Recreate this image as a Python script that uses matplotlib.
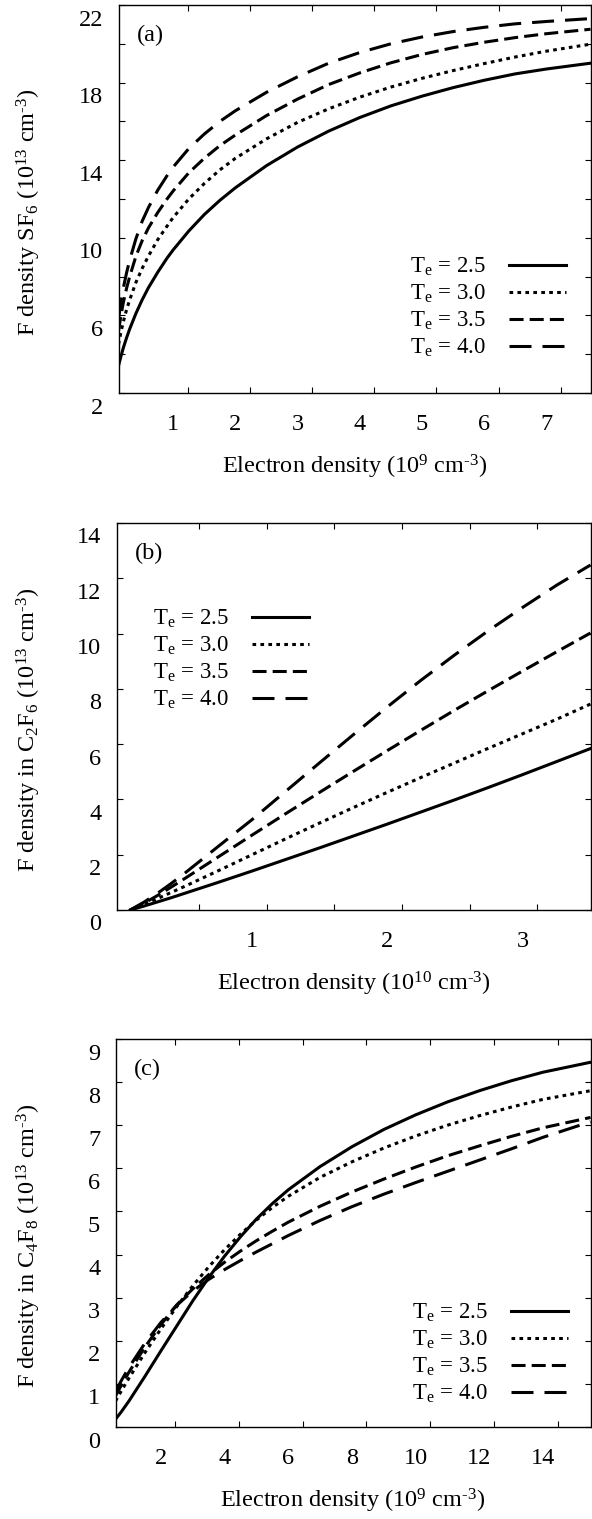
import matplotlib.pyplot as plt
import numpy as np
from matplotlib.ticker import FixedLocator, FuncFormatter
from matplotlib.transforms import ScaledTranslation

plt.rcParams['font.family'] = ['Liberation Serif', 'DejaVu Serif']
plt.rcParams['mathtext.fontset'] = 'custom'
plt.rcParams['mathtext.rm'] = 'Liberation Serif'
plt.rcParams['mathtext.it'] = 'Liberation Serif:italic'
plt.rcParams['mathtext.bf'] = 'Liberation Serif:bold'

te_values = ["2.5", "3.0", "3.5", "4.0"]

# (a) F density in SF6 vs electron density (1e9 cm-3)
ne_a = [0.12, 0.16, 0.2, 0.25, 0.3, 0.4, 0.5, 0.6, 0.75, 0.9, 1.0, 1.25, 1.5, 1.75, 2.0,
        2.5, 3.0, 3.5, 4.0, 4.5, 5.0, 5.5, 6.0, 6.5, 7.0, 7.71]
sf6_te25 = [3.4, 3.9, 4.35, 4.85, 5.3, 6.1, 6.8, 7.42, 8.22, 8.95, 9.38, 10.35, 11.2, 11.93, 12.58,
            13.72, 14.68, 15.5, 16.2, 16.8, 17.3, 17.74, 18.12, 18.45, 18.7, 19.0]
sf6_te30 = [4.5, 5.15, 5.7, 6.3, 6.8, 7.7, 8.42, 9.05, 9.9, 10.6, 11.05, 12.0, 12.8, 13.5, 14.1,
            15.1, 15.95, 16.65, 17.25, 17.77, 18.22, 18.62, 18.98, 19.32, 19.62, 19.98]
sf6_te35 = [5.2, 6.0, 6.7, 7.4, 8.0, 9.05, 9.85, 10.5, 11.3, 12.0, 12.42, 13.35, 14.1, 14.75, 15.3,
            16.3, 17.15, 17.9, 18.5, 19.02, 19.45, 19.8, 20.08, 20.32, 20.52, 20.75]
sf6_te40 = [5.8, 6.7, 7.45, 8.2, 8.85, 9.95, 10.85, 11.55, 12.45, 13.2, 13.65, 14.6, 15.35, 16.0, 16.55,
            17.5, 18.3, 19.0, 19.55, 20.0, 20.35, 20.63, 20.85, 21.03, 21.15, 21.3]

# (b) F density in C2F6 vs electron density (1e10 cm-3)
ne_b = [0.1, 0.2, 0.3, 0.4, 0.5, 0.75, 1.0, 1.25, 1.5, 1.75, 2.0, 2.25, 2.5, 2.75, 3.0, 3.25, 3.5]
c2f6_te25 = [0.0, 0.14, 0.29, 0.44, 0.6, 1.0, 1.41, 1.83, 2.25, 2.68, 3.11, 3.55, 3.99, 4.44, 4.9, 5.37, 5.84]
c2f6_te30 = [0.0, 0.2, 0.41, 0.63, 0.85, 1.42, 2.0, 2.58, 3.15, 3.71, 4.26, 4.8, 5.33, 5.86, 6.38, 6.9, 7.45]
c2f6_te35 = [0.0, 0.24, 0.52, 0.82, 1.13, 1.92, 2.71, 3.49, 4.26, 5.02, 5.77, 6.51, 7.24, 7.95, 8.65, 9.34, 10.02]
c2f6_te40 = [0.0, 0.28, 0.6, 0.95, 1.32, 2.3, 3.27, 4.3, 5.33, 6.35, 7.35, 8.32, 9.24, 10.12, 10.95, 11.75, 12.48]

# (c) F density in C4F8 vs electron density (1e9 cm-3)
ne_c = [0.58, 0.75, 1.0, 1.5, 2.0, 2.5, 3.0, 3.5, 4.0, 4.5, 5.0, 5.5, 6.0, 7.0, 8.0, 9.0, 10.0,
        11.0, 12.0, 13.0, 14.0, 15.49]
c4f8_te25 = [0.18, 0.34, 0.6, 1.17, 1.76, 2.34, 2.92, 3.46, 3.96, 4.41, 4.82, 5.18, 5.5, 6.04, 6.5, 6.9, 7.24,
             7.54, 7.8, 8.03, 8.23, 8.46]
c4f8_te30 = [0.6, 0.82, 1.13, 1.72, 2.27, 2.79, 3.27, 3.71, 4.11, 4.47, 4.8, 5.09, 5.35, 5.79, 6.15, 6.47, 6.75,
             7.0, 7.22, 7.42, 7.6, 7.8]
c4f8_te35 = [0.72, 0.95, 1.27, 1.85, 2.37, 2.83, 3.2, 3.53, 3.82, 4.08, 4.32, 4.54, 4.75, 5.12, 5.45, 5.75, 6.03,
             6.29, 6.52, 6.74, 6.94, 7.18]
c4f8_te40 = [0.82, 1.06, 1.38, 1.94, 2.42, 2.82, 3.15, 3.42, 3.65, 3.86, 4.06, 4.25, 4.44, 4.79, 5.11, 5.4, 5.67,
             5.93, 6.19, 6.45, 6.72, 7.08]

line_styles = ['-', (0, (1.2, 1.4)), (0, (4.6, 2.0)), (0, (7.2, 3.6))]

W, H = 592, 1519
fig = plt.figure(figsize=(W / 100, H / 100), dpi=100)

unit = r"cm$^{\text{-3}}$)"
panels = [
    dict(box=(118.5, 590.5, 5, 393), x=ne_a, ys=[sf6_te25, sf6_te30, sf6_te35, sf6_te40],
         xlim=(0.12, 7.71), ylim=(2, 22),
         xticks=np.arange(1, 8, 1), yticks=np.arange(2, 23, 2), ylab_step=4, ylab_start=2,
         tag="(a)", ylabel=r"F density SF$_6$ (10$^{13}$ " + unit,
         xlabel=r"Electron density (10$^9$ " + unit,
         leg_loc='upper right', leg_anchor=(566, 256)),
    dict(box=(116.7, 590.5, 523, 910), x=ne_b, ys=[c2f6_te25, c2f6_te30, c2f6_te35, c2f6_te40],
         xlim=(0.0, 3.5), ylim=(0, 14),
         xticks=np.arange(0.5, 3.01, 0.5), yticks=np.arange(0, 15, 2), ylab_step=2, ylab_start=0,
         tag="(b)", ylabel=r"F density in C$_2$F$_6$ (10$^{13}$ " + unit,
         xlabel=r"Electron density (10$^{10}$ " + unit,
         leg_loc='upper left', leg_anchor=(153, 608)),
    dict(box=(115.5, 590.5, 1039, 1427), x=ne_c, ys=[c4f8_te25, c4f8_te30, c4f8_te35, c4f8_te40],
         xlim=(0.58, 15.49), ylim=(0, 9),
         xticks=np.arange(2, 15, 2), yticks=np.arange(0, 10, 1), ylab_step=1, ylab_start=0,
         tag="(c)", ylabel=r"F density in C$_4$F$_8$ (10$^{13}$ " + unit,
         xlabel=r"Electron density (10$^9$ " + unit,
         leg_loc='upper right', leg_anchor=(568, 1302)),
]

label_shift = ScaledTranslation(0, -12.5 / 100, fig.dpi_scale_trans)
tick_shift = ScaledTranslation(14.5 / 100, 0, fig.dpi_scale_trans)

for p in panels:
    l, r, t, b = p["box"]
    aw, ah = r - l, b - t
    ax = fig.add_axes([l / W, 1 - b / H, aw / W, ah / H])

    for ys, ls, te in zip(p["ys"], line_styles, te_values):
        ax.plot(p["x"], ys, color='black', lw=2.2, ls=ls,
                label=r"T$_\mathrm{e}$ = " + te)

    ax.set_xlim(*p["xlim"])
    ax.set_ylim(*p["ylim"])

    ax.xaxis.set_major_locator(FixedLocator(p["xticks"]))
    ax.xaxis.set_major_formatter(FuncFormatter(
        lambda v, pos: f"{v:g}" if abs(v - round(v)) < 1e-6 else ""))
    ax.yaxis.set_major_locator(FixedLocator(p["yticks"]))
    step, start = p["ylab_step"], p["ylab_start"]
    ax.yaxis.set_major_formatter(FuncFormatter(
        lambda v, pos, s=step, s0=start: f"{v:g}" if round(v - s0) % s == 0 else ""))

    ax.tick_params(direction='in', length=4, width=0.8, top=True, right=True,
                   labelsize=17.5, colors='black')
    ax.tick_params(axis='x', pad=15)
    ax.tick_params(axis='y', pad=11)
    for sp in ax.spines.values():
        sp.set_linewidth(1.0)

    # tick labels drawn lower than their y ticks, x tick marks sit right of the labels
    for lab in ax.get_yticklabels():
        lab.set_transform(lab.get_transform() + label_shift)
    for tk in ax.xaxis.get_major_ticks():
        tk.tick1line.set_transform(tk.tick1line.get_transform() + tick_shift)
        tk.tick2line.set_transform(tk.tick2line.get_transform() + tick_shift)

    ax.set_ylabel(p["ylabel"], fontsize=17.5, va='center')
    ax.yaxis.set_label_coords((28.5 - l) / aw, 0.5 - 13 / ah)
    ax.set_xlabel(p["xlabel"], fontsize=17.5, va='center')
    ax.xaxis.set_label_coords(0.5, -74 / ah)

    ax.text(18 / aw, 1 - 30 / ah, p["tag"], transform=ax.transAxes,
            fontsize=17.5, ha='left', va='center')

    ax_x, ax_y = p["leg_anchor"]
    ax.legend(loc=p["leg_loc"], bbox_to_anchor=((ax_x - l) / aw, 1 - (ax_y - t) / ah),
              markerfirst=False, frameon=False, fontsize=16.5, handlelength=2.5,
              handletextpad=1.0, labelspacing=0.2, borderpad=0, borderaxespad=0)

fig.savefig("out.png", dpi=100)
